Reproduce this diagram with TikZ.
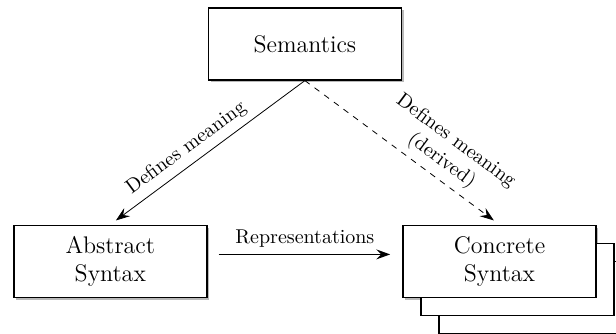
\documentclass[tikz,border=0pt]{standalone}
\usepackage{amsmath}
\usepackage{tikz}
\usetikzlibrary{arrows.meta}
\usetikzlibrary{positioning}
\usetikzlibrary{shadows}
\tikzset{>={Stealth[length=7pt, width=5pt, inset=2.5pt]}}
\tikzset{
    block/.style={draw, thick, fill=white, minimum width=96.5pt, minimum height=36pt,
        align=center, font=\large, drop shadow={shadow xshift=1.2pt, shadow yshift=-1.2pt, opacity=0.55}},
    stack/.style={double copy shadow={shadow xshift=9pt, shadow yshift=-9pt}}
}

\begin{document}
\begin{tikzpicture}[node distance=72pt]
        \node [block] (Semantics) {Semantics};
        \node [block, below left=72pt and 0pt of Semantics] (Abstract) {Abstract\\Syntax};
        \node [block, stack, below right=72pt and 0pt of Semantics] (Concrete) {Concrete\\Syntax};

        % margins of the page
        \coordinate (TopLeft) at (Abstract.west |- Semantics.north);
        \useasboundingbox ([xshift=-6.5pt, yshift=3.5pt]TopLeft) rectangle ++(308pt,-166.5pt);

        \draw [->, shorten >=3.5pt] (Semantics.south)--(Abstract.north)
            node [pos=0.56, above, sloped] {Defines meaning};

        \draw [->, dashed, shorten >=3.5pt] (Semantics.south)--(Concrete.north)
            node [pos=0.65, above, sloped, align=center] {Defines meaning\\(derived)};

        \draw [->, semithick, shorten <=5.5pt, shorten >=6pt] ([yshift=3.5pt]Abstract.east)--([yshift=3.5pt]Concrete.west)
            node [midway, above] {Representations};
    \end{tikzpicture}
\end{document}
